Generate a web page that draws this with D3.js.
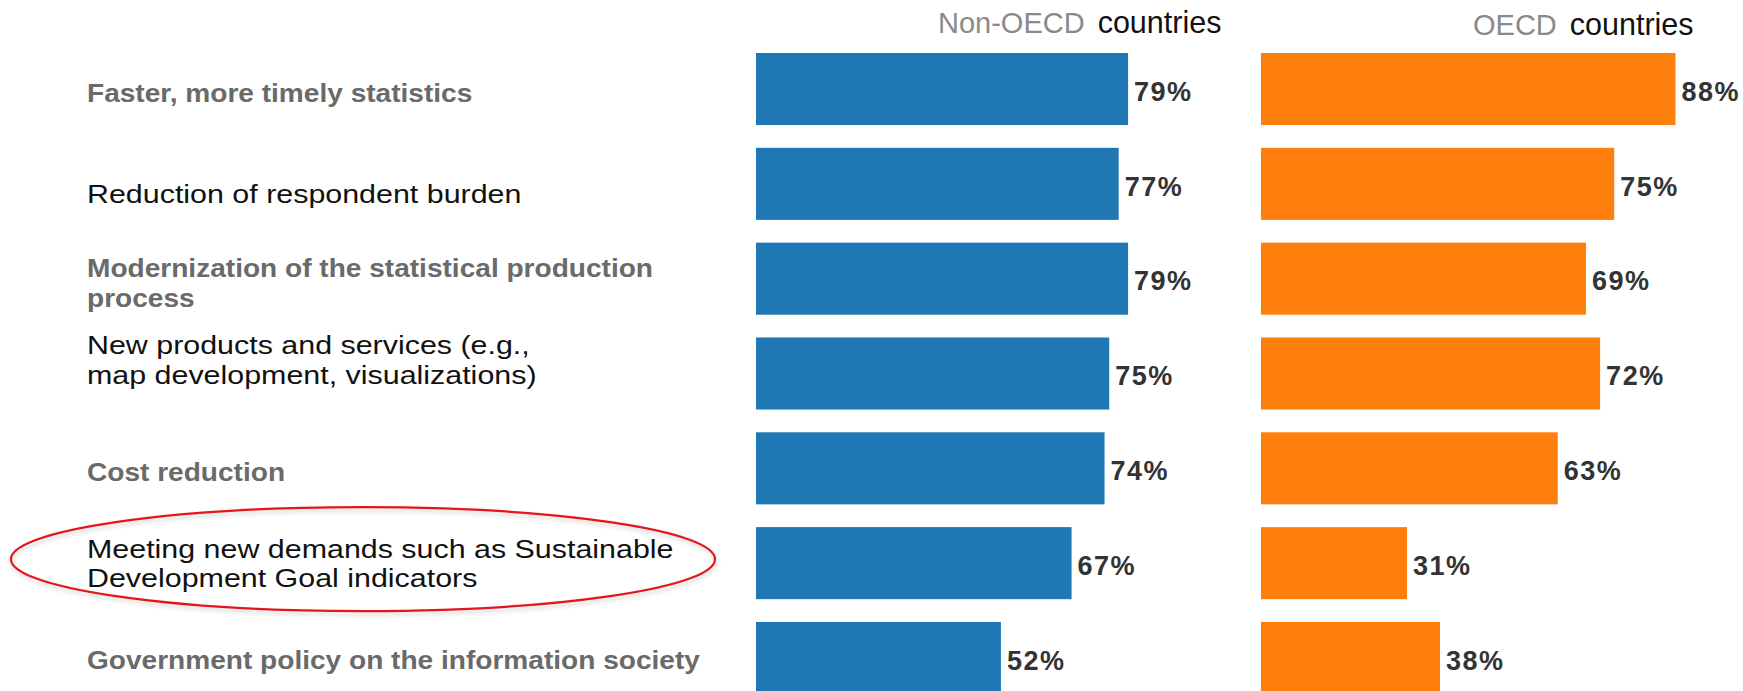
<!DOCTYPE html>
<html>
<head>
<meta charset="utf-8">
<script src="https://cdn.jsdelivr.net/npm/d3@7"></script>
<style>
body { margin: 0; background: #fff; }
text { font-family: "Liberation Sans", Arial, sans-serif; }
</style>
</head>
<body>
<div id="chart-area"></div>
<script>
// data
var categories = [
  "Faster, more timely statistics",
  "Reduction of respondent burden",
  "Modernization of the statistical production\nprocess",
  "New products and services (e.g.,\nmap development, visualizations)",
  "Cost reduction",
  "Meeting new demands such as Sustainable\nDevelopment Goal indicators",
  "Government policy on the information society"
];
var nonOecd = [79, 77, 79, 75, 74, 67, 52];
var oecd = [88, 75, 69, 72, 63, 31, 38];
var groupNames = ["Non-OECD", "OECD"];
var circledRow = 5;

var width = 1743, height = 691;

var svg = d3.select("#chart-area").append("svg")
  .attr("width", width)
  .attr("height", height);

svg.append("rect").attr("width", width).attr("height", height).attr("fill", "#fff");

var y = d3.scaleBand()
  .domain(d3.range(categories.length))
  .range([53, 694])
  .paddingInner(0.24)
  .paddingOuter(0);

var x = d3.scaleLinear().domain([0, 100]).range([0, 471]);

var colors = d3.schemeCategory10;

// shadow for the red ellipse
var defs = svg.append("defs");
var f = defs.append("filter").attr("id", "shadow").attr("x", "-10%").attr("y", "-30%").attr("width", "120%").attr("height", "160%");
f.append("feDropShadow").attr("dx", 1).attr("dy", 3).attr("stdDeviation", 2).attr("flood-color", "#000").attr("flood-opacity", 0.18);

// category labels - the source text is a bit stretched sideways, hence scale()
var labelNudge = [4, 10, 4, -14, 3, 0, 2];
var labels = svg.append("g").attr("class", "labels");
categories.forEach(function(c, i) {
  var lines = c.split("\n");
  var cy = y(i) + y.bandwidth() / 2 + labelNudge[i];
  var bold = i % 2 === 0;
  var t = labels.append("text")
    .attr("transform", "translate(87," + (cy - (lines.length - 1) * 15) + ") scale(" + (bold ? 1.08 : 1.17) + ",1)")
    .style("font-size", "26px")
    .style("font-weight", bold ? "bold" : "normal")
    .attr("fill", bold ? "#6a6a6a" : "#111");
  lines.forEach(function(l, j) {
    t.append("tspan").attr("x", 0).attr("dy", j === 0 ? "0.36em" : "30px").text(l);
  });
});

// red ellipse around the highlighted row
svg.append("ellipse")
  .attr("cx", 363)
  .attr("cy", y(circledRow) + y.bandwidth() / 2 - 4)
  .attr("rx", 352)
  .attr("ry", 52)
  .attr("fill", "none")
  .attr("stroke", "#e3161b")
  .attr("stroke-width", 2.2)
  .attr("filter", "url(#shadow)");

// two bar panels
var panels = [
  { name: groupNames[0], values: nonOecd, x0: 756, color: colors[0], headX: 182, headY: 33 },
  { name: groupNames[1], values: oecd, x0: 1261, color: colors[1], headX: 212, headY: 35 }
];

panels.forEach(function(p) {
  var g = svg.append("g").attr("transform", "translate(" + p.x0 + ",0)");

  var head = g.append("text")
    .attr("x", p.headX)
    .attr("y", p.headY);
  head.append("tspan").attr("fill", "#8a8a8a").style("font-size", "29px").text(p.name);
  head.append("tspan").attr("fill", "#111").style("font-size", "30.5px").attr("dx", 13).text("countries");

  g.selectAll("rect.bar")
    .data(p.values)
    .enter()
    .append("rect")
    .attr("class", "bar")
    .attr("x", x(0))
    .attr("y", function(d, i) { return y(i); })
    .attr("width", function(d) { return x(d); })
    .attr("height", y.bandwidth())
    .attr("fill", p.color);

  g.selectAll("text.val")
    .data(p.values)
    .enter()
    .append("text")
    .attr("class", "val")
    .attr("x", function(d) { return x(d) + 6; })
    .attr("y", function(d, i) { return y(i) + y.bandwidth() / 2 + 2; })
    .attr("dy", "0.36em")
    .style("font-size", "27px")
    .style("font-weight", "bold")
    .style("letter-spacing", "1.5px")
    .attr("fill", "#333")
    .text(function(d) { return d + "%"; });
});
</script>
</body>
</html>
